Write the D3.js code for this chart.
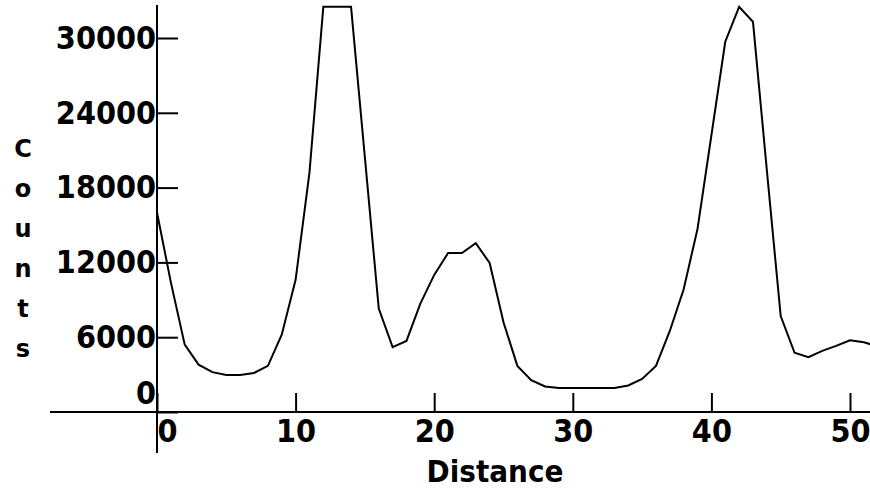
<!DOCTYPE html>
<html>
<head>
<meta charset="utf-8">
<script src="https://cdn.jsdelivr.net/npm/d3@7"></script>
<style>
  html, body { margin: 0; padding: 0; background: #fff; }
  svg { display: block; }
  .lbl { font-family: "DejaVu Sans Condensed", "DejaVu Sans", sans-serif; font-stretch: condensed; font-weight: bold; fill: #000; }
</style>
</head>
<body>
<div id="chart"></div>
<script>
// distance samples 0..52 (the last one runs off the right edge)
const distance = d3.range(0, 53);
const counts = [
  16000, 10400, 5400, 3800, 3200, 2970, 2970, 3130, 3700, 6200,
  10600, 19200, 32500, 32500, 32500, 20400, 8300, 5200, 5700, 8700,
  11000, 12750, 12750, 13550, 11950, 7200, 3700, 2550, 2050, 1920,
  1920, 1920, 1920, 1920, 2130, 2650, 3700, 6500, 9850, 14700,
  22200, 29700, 32500, 31300, 19400, 7700, 4750, 4400, 4900, 5300,
  5750, 5600, 5250
];
const xTicks = [0, 10, 20, 30, 40, 50];
const yTicks = [0, 6000, 12000, 18000, 24000, 30000];
const yTitle = ["C", "o", "u", "n", "t", "s"];

const width = 870;
const height = 490;

const x = d3.scaleLinear().domain([0, 50]).range([157, 850]);
const y = d3.scaleLinear().domain([0, 30000]).range([412, 38]);

const svg = d3.select("#chart")
              .append("svg")
              .attr("width", width)
              .attr("height", height);

svg.append("defs").append("clipPath")
   .attr("id", "plot")
   .append("rect")
   .attr("x", x(0)).attr("y", 0)
   .attr("width", width - x(0)).attr("height", y(0));

// the profile
svg.append("path")
   .datum(distance.map((d, i) => [d, counts[i]]))
   .attr("clip-path", "url(#plot)")
   .attr("fill", "none")
   .attr("stroke", "#000")
   .attr("stroke-width", 2)
   .attr("stroke-linejoin", "miter")
   .attr("d", d3.line().x(d => x(d[0])).y(d => y(d[1])));

// axes: ticks point inward, the domain lines are drawn by hand
const yAxis = svg.append("g")
   .attr("transform", `translate(${x(0)},0)`)
   .call(d3.axisLeft(y).tickValues(yTicks).tickSize(-21).tickPadding(1).tickFormat(d3.format("d")));

const xAxis = svg.append("g")
   .attr("transform", `translate(0,${y(0)})`)
   .call(d3.axisBottom(x).tickValues(xTicks).tickSize(-19).tickPadding(7).tickFormat(d3.format("d")));

[yAxis, xAxis].forEach(g => {
  g.select(".domain").remove();
  g.selectAll(".tick line").attr("stroke", "#000").attr("stroke-width", 2);
  g.selectAll(".tick text").attr("class", "lbl").attr("font-size", 32).attr("fill", "#000");
});

// zero labels are nudged off the crossing
yAxis.selectAll(".tick").filter(d => d === 0).select("text").attr("y", -19);
xAxis.selectAll(".tick").filter(d => d === 0).select("text").attr("x", 10);

svg.append("line")
   .attr("x1", x(0)).attr("x2", x(0))
   .attr("y1", 5).attr("y2", 453)
   .attr("stroke", "#000").attr("stroke-width", 2);

svg.append("line")
   .attr("x1", 50).attr("x2", width)
   .attr("y1", y(0)).attr("y2", y(0))
   .attr("stroke", "#000").attr("stroke-width", 2);

svg.append("text")
   .attr("class", "lbl")
   .attr("font-size", 31)
   .attr("text-anchor", "middle")
   .attr("x", 495)
   .attr("y", 482)
   .text("Distance");

svg.append("g")
   .selectAll("text")
   .data(yTitle)
   .enter()
   .append("text")
   .attr("font-family", "DejaVu Sans, sans-serif")
   .attr("font-weight", "bold")
   .attr("font-size", 24)
   .attr("text-anchor", "middle")
   .attr("x", 23)
   .attr("y", (d, i) => 157 + i * 40)
   .text(d => d);
</script>
</body>
</html>
